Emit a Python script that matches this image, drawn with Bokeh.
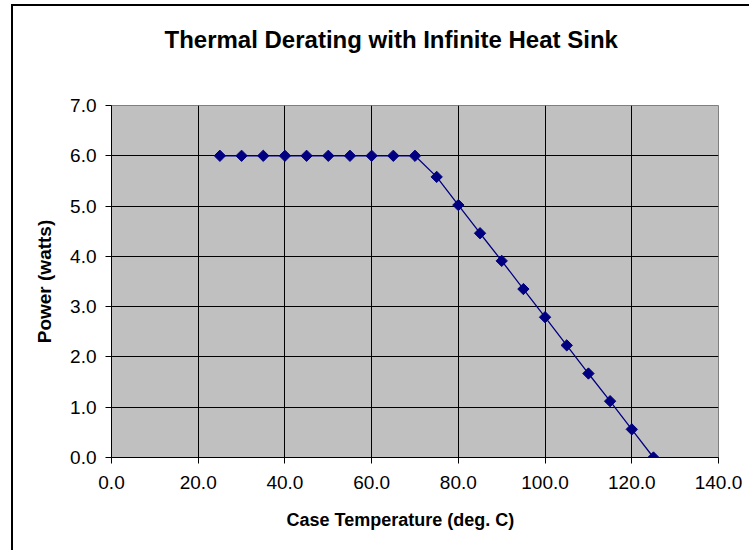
import math
from bokeh.plotting import figure
from bokeh.models import Range1d, FixedTicker, Title
from bokeh.embed import file_html
from bokeh.resources import INLINE

# Data
temps = [25, 30, 35, 40, 45, 50, 55, 60, 65, 70, 75, 80, 85, 90, 95, 100, 105, 110, 115, 120, 125]
power = [6.0, 6.0, 6.0, 6.0, 6.0, 6.0, 6.0, 6.0, 6.0, 6.0, 5.58, 5.02, 4.46, 3.91, 3.35, 2.79, 2.23, 1.67, 1.12, 0.56, 0.0]
x_ticks = [0, 20, 40, 60, 80, 100, 120, 140]
x_tick_labels = ["0.0", "20.0", "40.0", "60.0", "80.0", "100.0", "120.0", "140.0"]
y_ticks = [0, 1, 2, 3, 4, 5, 6, 7]
y_tick_labels = ["0.0", "1.0", "2.0", "3.0", "4.0", "5.0", "6.0", "7.0"]
title_text = "Thermal Derating with Infinite Heat Sink"
x_title = "Case Temperature (deg. C)"
y_title = "Power (watts)"

W, H = 738, 546
FONT = "Liberation Sans"

p = figure(width=W, height=H, output_backend="svg", toolbar_location=None,
           x_range=Range1d(0, 140), y_range=Range1d(0, 7),
           min_border_left=98, min_border_right=W - 705,
           min_border_top=99, min_border_bottom=95)
p.margin = (4, 0, 0, 11)
p.styles = {"border-left": "2px solid black", "border-top": "2px solid black"}

p.background_fill_color = "#C0C0C0"
p.border_fill_color = "white"
p.outline_line_color = "#808080"
p.outline_line_width = 1

for ax, ticks, labels in ((p.xaxis[0], x_ticks, x_tick_labels), (p.yaxis[0], y_ticks, y_tick_labels)):
    ax.ticker = FixedTicker(ticks=ticks)
    ax.major_label_overrides = {t: l for t, l in zip(ticks, labels)}
    ax.minor_tick_line_color = None
    ax.major_tick_in = 0
    ax.major_tick_out = 6
    ax.major_tick_line_color = "black"
    ax.axis_line_color = "black"
    ax.major_label_text_font = FONT
    ax.major_label_text_font_size = "19px"
    ax.major_label_text_color = "black"
p.xaxis.major_label_standoff = 12
p.yaxis.major_label_standoff = 9

p.yaxis.axis_label = y_title
p.yaxis.axis_label_text_font = FONT
p.yaxis.axis_label_text_font_size = "19px"
p.yaxis.axis_label_text_font_style = "bold"
p.yaxis.axis_label_text_color = "black"
p.yaxis.axis_label_standoff = 12

p.xgrid.ticker = FixedTicker(ticks=x_ticks)
p.ygrid.ticker = FixedTicker(ticks=y_ticks)
p.grid.grid_line_color = "black"
p.grid.grid_line_width = 1

p.line(temps, power, line_color="#000080", line_width=1.3)
p.scatter(temps, power, marker="square", angle=math.pi / 4, size=8,
          fill_color="#000080", line_color="#000080")

# main title (outermost in the top panel)
p.title = Title(text=title_text, align="left", offset=53, standoff=0,
                vertical_align="bottom",
                text_font=FONT, text_font_size="24px", text_font_style="bold",
                text_color="black")
# blank spacer between the title and the plot area
p.add_layout(Title(text=" ", standoff=40, text_font=FONT, text_font_size="10px"), "above")
p.add_layout(Title(text=x_title, align="left", offset=175, standoff=33,
                   text_font=FONT, text_font_size="18px", text_font_style="bold",
                   text_color="black"), "below")

open("out.html", "w").write(file_html(p, INLINE))
